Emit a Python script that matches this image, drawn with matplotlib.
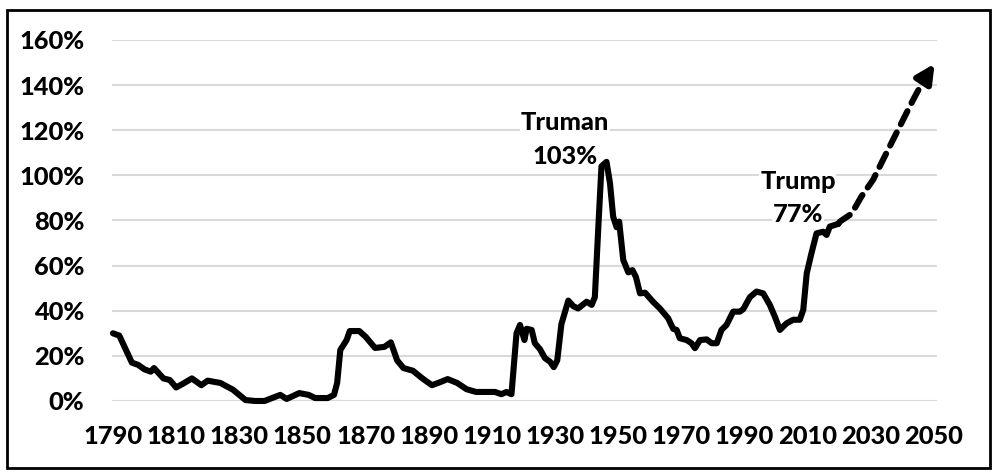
import matplotlib
matplotlib.use('Agg')
import matplotlib.pyplot as plt
from matplotlib.patches import Rectangle

# 実績 (debt held by public, % of GDP)
years = [1790, 1792, 1794, 1796, 1798, 1800, 1802, 1803, 1806, 1808, 1810, 1812, 1815,
         1818, 1820, 1824, 1828, 1832, 1835, 1838, 1843, 1845, 1849, 1852, 1854, 1858,
         1860, 1861, 1862, 1864, 1865, 1868, 1870, 1873, 1876, 1878, 1880, 1882, 1885,
         1888, 1891, 1893, 1896, 1899, 1902, 1905, 1911, 1913, 1914.6, 1916.2, 1917.8,
         1918.9, 1920.3, 1921, 1922.6, 1923.6, 1925.2, 1926.8, 1928.4, 1929.6, 1930.7,
         1932, 1934.2, 1935.8, 1937.3, 1940, 1941.6, 1942.6, 1943.7, 1944.7, 1946.3,
         1947.4, 1948.4, 1949.5, 1950.3, 1951.6, 1953.2, 1954.5, 1955.6, 1956.9, 1958.5,
         1961, 1963.2, 1965.8, 1967.4, 1968.5, 1969.5, 1971.7, 1973.2, 1974.3, 1975.9,
         1978, 1979.6, 1981.2, 1982.7, 1984.3, 1986.4, 1988.5, 1989.6, 1991.7, 1993.8,
         1995.9, 1998, 1999.6, 2001.2, 2003.3, 2005.4, 2007.5, 2008.6, 2009.7, 2011.2,
         2012.8, 2014.9, 2016, 2017, 2019.7]
debt = [30, 29, 23, 17, 16, 14, 13, 14.6, 10, 9.3, 6, 7.5, 10,
        7, 9, 8, 5, 0.4, 0, 0, 2.7, 0.9, 3.5, 2.7, 1.3, 1.3,
        2.7, 8, 22.6, 27, 31, 31, 28.5, 23.5, 24, 26, 18, 14.6, 13.4,
        10, 7, 8, 9.7, 8, 5.2, 4, 4, 3, 4, 3, 30,
        33.7, 27, 32, 31.5, 25.6, 23, 19, 17.4, 15, 18,
        34, 44.5, 42, 41, 44, 42.6, 46, 77, 104, 106,
        96.5, 81.7, 77, 79.5, 62.5, 57, 58, 55, 47.7, 48,
        44, 41, 36.7, 32, 31.5, 27.8, 27, 25.6, 23.4, 27,
        27.3, 25.6, 25.6, 31.5, 33.7, 39.6, 39.6, 40.7, 46, 48.5,
        47.7, 42.6, 37.4, 31.5, 34.4, 36, 36, 40.4, 56.6, 65.5,
        74.3, 75, 73.6, 77.3, 78.5]

# 予測
proj_years = [2019.7, 2020.2, 2023.9, 2027, 2030.7, 2033.9, 2037, 2040.2, 2043.4, 2046.5]
proj_debt = [78.5, 79.5, 83, 90.6, 98, 107, 115.7, 124.6, 133.5, 141.6]
arrow_end = (2050.2, 149.5)

yticks = [0, 20, 40, 60, 80, 100, 120, 140, 160]
xticks = list(range(1790, 2051, 20))

plt.rcParams['font.family'] = ['Lato', 'DejaVu Sans']
FS = 18.3
FW = 'black'

fig = plt.figure(figsize=(9.99, 4.76), dpi=100)
ax = fig.add_axes([0.1121, 0.1576, 0.826, 0.7584])

ax.plot(years, debt, color='black', lw=4.4, solid_joinstyle='round',
        solid_capstyle='round', clip_on=False, zorder=3)
ax.plot(proj_years, proj_debt, color='black', lw=4.4, linestyle=(0, (2.4, 1.5)),
        dash_capstyle='round', clip_on=False, zorder=3)
ax.annotate('', xy=arrow_end, xytext=(proj_years[-1], proj_debt[-1]),
            arrowprops=dict(arrowstyle='-|>,head_length=1.1,head_width=0.55',
                            color='black', lw=4.4, shrinkA=0, shrinkB=0),
            annotation_clip=False, zorder=4)

ax.set_xlim(1789.7, 2051)
ax.set_ylim(0, 160)
ax.set_yticks(yticks)
ax.set_yticklabels([f'{v}%' for v in yticks])
ax.set_xticks(xticks)
ax.set_xticklabels([str(v) for v in xticks])
ax.grid(axis='y', color='#d9d9d9', lw=1.5, zorder=0)
ax.set_axisbelow(True)
for s in ax.spines.values():
    s.set_visible(False)
ax.tick_params(length=0, labelsize=FS)
ax.tick_params(axis='y', pad=20)
ax.tick_params(axis='x', pad=17)
for lab in ax.get_xticklabels() + ax.get_yticklabels():
    lab.set_fontweight(FW)

bb = dict(facecolor='white', edgecolor='none', pad=0.5)
ax.text(1933.1, 123.3, 'Truman', ha='center', va='center', fontsize=FS,
        fontweight=FW, bbox=bb, zorder=5)
ax.text(1933.1, 108.2, '103%', ha='center', va='center', fontsize=FS,
        fontweight=FW, bbox=bb, zorder=5)
ax.text(2006.9, 97.1, 'Trump', ha='center', va='center', fontsize=FS,
        fontweight=FW, bbox=bb, zorder=5)
ax.text(2006.9, 82.5, '77%', ha='center', va='center', fontsize=FS,
        fontweight=FW, bbox=bb, zorder=5)

# 外枠
fig.patches.append(Rectangle((7/999, 1 - 468/476), (990 - 7)/999, (468 - 10)/476,
                             transform=fig.transFigure, fill=False,
                             edgecolor='black', lw=2))

fig.savefig('out.png', dpi=100)
